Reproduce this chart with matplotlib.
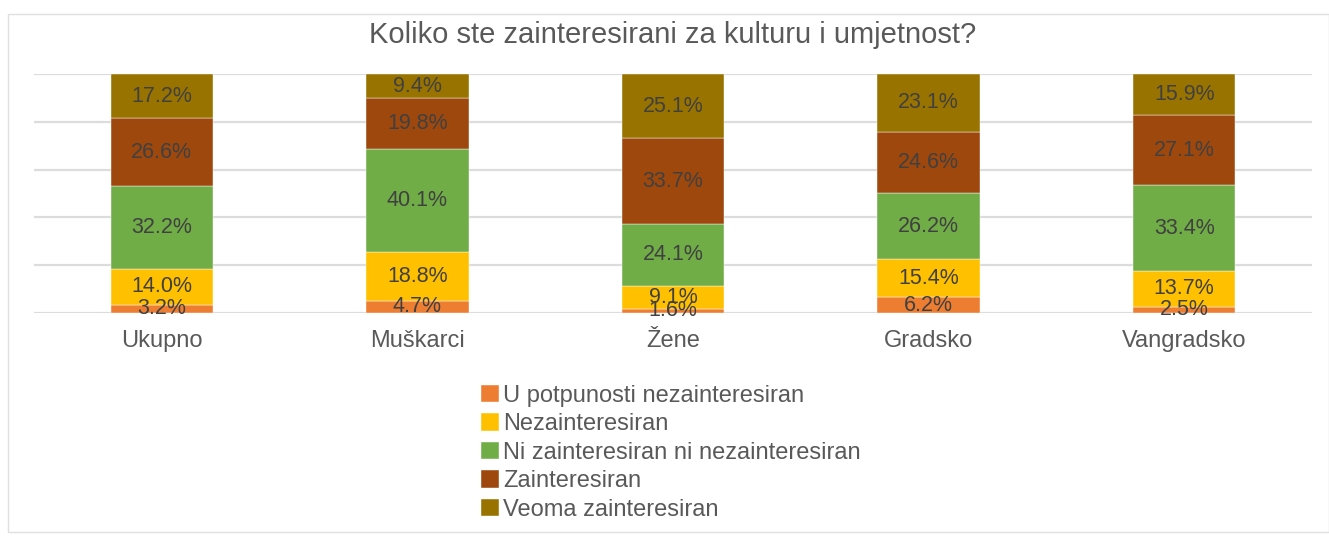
import matplotlib
matplotlib.use("Agg")
import matplotlib.pyplot as plt
from matplotlib.patches import Rectangle
import numpy as np

plt.rcParams["font.family"] = ["Liberation Sans", "DejaVu Sans"]

categories = ["Ukupno", "Muškarci", "Žene", "Gradsko", "Vangradsko"]
series_names = [
    "U potpunosti nezainteresiran",
    "Nezainteresiran",
    "Ni zainteresiran ni nezainteresiran",
    "Zainteresiran",
    "Veoma zainteresiran",
]
# percentages per series, one value per category
u_potpunosti = [3.2, 4.7, 1.6, 6.2, 2.5]
nezainteresiran = [14.0, 18.8, 9.1, 15.4, 13.7]
ni_ni = [32.2, 40.1, 24.1, 26.2, 33.4]
zainteresiran = [26.6, 19.8, 33.7, 24.6, 27.1]
veoma = [17.2, 9.4, 25.1, 23.1, 15.9]
colors = ["#ED7D31", "#FFC000", "#70AD47", "#9E480E", "#997300"]

title = "Koliko ste zainteresirani za kulturu i umjetnost?"
text_color = "#404040"

values = np.array([u_potpunosti, nezainteresiran, ni_ni, zainteresiran, veoma])
shares = values / values.sum(axis=0) * 100  # 100% stacked

fig = plt.figure(figsize=(13.29, 5.37), dpi=100)
ax = fig.add_axes([34 / 1329, 224 / 537, 1278 / 1329, 239 / 537])

x = np.arange(len(categories))
bottom = np.zeros(len(categories))
for name, col, share, raw in zip(series_names, colors, shares, values):
    ax.bar(x, share, 0.4, bottom=bottom, color=col, label=name, zorder=2,
           edgecolor="white", linewidth=0.3)
    for xi, b, h, v in zip(x, bottom, share, raw):
        ax.text(xi, b + h / 2, f"{v:.1f}%", ha="center", va="center",
                fontsize=15.5, color=text_color, zorder=3)
    bottom += share

ax.set_xlim(-0.5, len(categories) - 0.5)
ax.set_ylim(0, 100)
ax.set_yticks(np.arange(0, 101, 20))
ax.yaxis.grid(True, color="#dcdcdc", linewidth=1.6, zorder=0)
ax.tick_params(axis="y", left=False, labelleft=False)
ax.tick_params(axis="x", length=0, pad=12, labelsize=17, labelcolor="#595959")
ax.set_xticks(x)
ax.set_xticklabels(categories)
for s in ax.spines.values():
    s.set_visible(False)

fig.text(0.506, 1 - 35 / 537, title, ha="center", va="center",
         fontsize=21, color="#595959")

ax.legend(loc="upper left", bbox_to_anchor=(481 / 1329, 1 - 385 / 537),
          bbox_transform=fig.transFigure, frameon=False, fontsize=17,
          labelcolor="#595959", handlelength=0.75, handleheight=0.75,
          handletextpad=0.2, labelspacing=0.27, borderpad=0, borderaxespad=0)

fig.patches.append(Rectangle((8 / 1329, 0.01), 1 - 8 / 1329, 1 - 14 / 537 - 0.01,
                             transform=fig.transFigure, fill=False,
                             edgecolor="#e0e0e0", linewidth=1))

fig.savefig("out.png", dpi=100)
